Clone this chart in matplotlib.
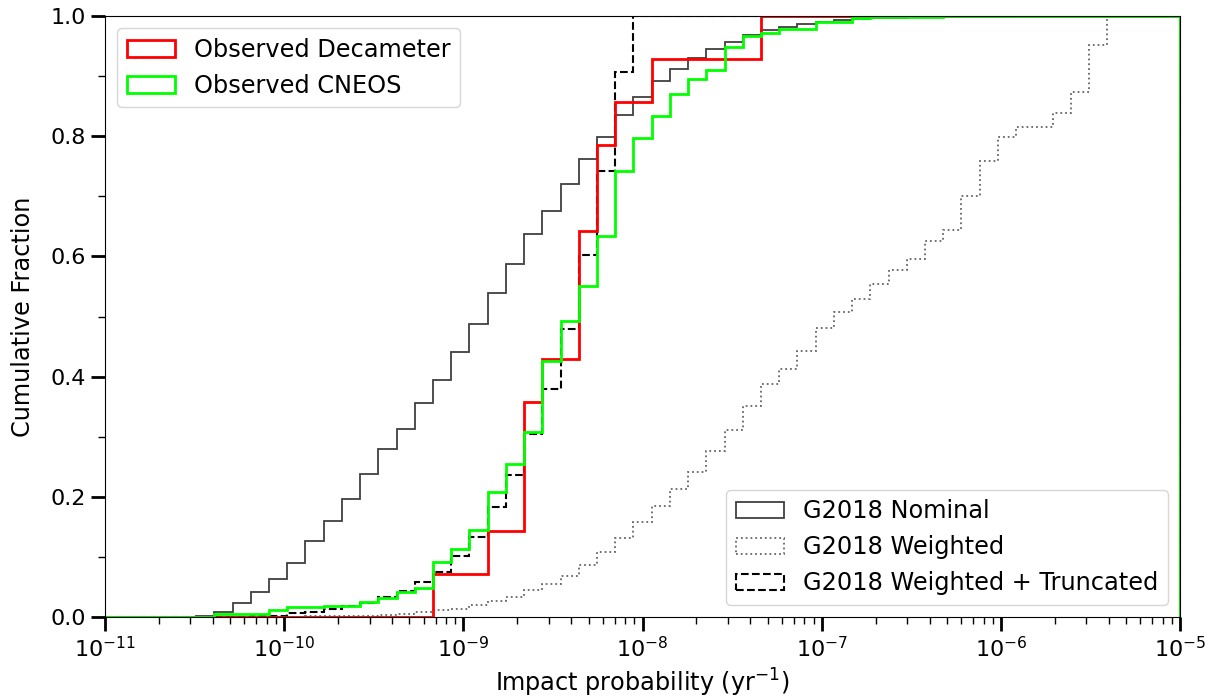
import numpy as np
import matplotlib
matplotlib.use("Agg")
import matplotlib.pyplot as plt
from matplotlib.ticker import MultipleLocator

# log-spaced bins, 1e-11 .. 1e-5
bins = np.logspace(-11, -5, 60)

# cumulative fraction per bin
nominal = ([0.0] * 5 + [0.002, 0.008, 0.023, 0.042, 0.064, 0.090, 0.126, 0.160, 0.197, 0.238,
           0.280, 0.313, 0.356, 0.395, 0.441, 0.488, 0.540, 0.588, 0.637, 0.676,
           0.720, 0.762, 0.799, 0.835, 0.865, 0.892, 0.912, 0.930, 0.945, 0.957,
           0.968, 0.977, 0.981, 0.986, 0.990, 0.993, 0.995, 0.996, 0.997, 0.998,
           0.998, 0.998, 0.999, 0.999, 0.999, 0.9995] + [1.0] * 8)

weighted = ([0.0] * 11 + [0.001, 0.001, 0.002, 0.002, 0.003, 0.005, 0.009, 0.012, 0.014,
            0.020, 0.026, 0.034, 0.045, 0.055, 0.069, 0.087, 0.109, 0.131, 0.158,
            0.185, 0.213, 0.242, 0.277, 0.311, 0.351, 0.387, 0.413, 0.443, 0.481,
            0.507, 0.529, 0.554, 0.577, 0.596, 0.626, 0.644, 0.701, 0.759, 0.799,
            0.815, 0.815, 0.839, 0.873, 0.952] + [1.0] * 4)

truncated = ([0.0] * 8 + [0.002, 0.002, 0.006, 0.008, 0.013, 0.018, 0.024, 0.033, 0.044,
             0.058, 0.075, 0.102, 0.134, 0.183, 0.237, 0.305, 0.380, 0.480, 0.602,
             0.742, 0.907] + [1.0] * 30)

decameter = ([0.0] * 18 + [0.071, 0.071, 0.071, 0.143, 0.143, 0.357, 0.429, 0.429,
             0.643, 0.786, 0.857, 0.857] + [0.929] * 6 + [1.0] * 23)

cneos = ([0.0] * 6 + [0.005, 0.005, 0.005, 0.012, 0.016, 0.016, 0.019, 0.019, 0.025,
         0.032, 0.042, 0.049, 0.092, 0.114, 0.145, 0.208, 0.255, 0.308, 0.426,
         0.493, 0.551, 0.634, 0.743, 0.797, 0.834, 0.870, 0.896, 0.911, 0.949,
         0.966, 0.972, 0.979, 0.979, 0.990, 0.990, 0.996, 0.998, 0.998, 0.998,
         0.998] + [1.0] * 13)

plt.rcParams['font.size'] = 16

fig = plt.figure(figsize=(12.16, 6.98), dpi=100)
ax = fig.add_axes([0.0863, 0.116, 0.8842, 0.861])

# bin centres (geometric) carry the per-bin increments
centres = np.sqrt(bins[:-1] * bins[1:])


def cumstep(cum, **kw):
    w = np.diff(np.asarray(cum), prepend=0.0)
    return ax.hist(centres, bins=bins, weights=w, cumulative=True,
                   histtype='step', **kw)[2][0]


h1 = cumstep(nominal, color='k', alpha=0.75, lw=1.3, label='G2018 Nominal')
h2 = cumstep(weighted, color='k', alpha=0.6, lw=1.3, ls=':', label='G2018 Weighted')
h3 = cumstep(truncated, color='k', lw=1.5, ls='--', label='G2018 Weighted + Truncated')
h4 = cumstep(decameter, color='red', lw=2, label='Observed Decameter')
h5 = cumstep(cneos, color='lime', lw=2, label='Observed CNEOS')

ax.set_xscale('log')
ax.set_xlim(1e-11, 1e-5)
ax.set_ylim(0, 1)
ax.yaxis.set_minor_locator(MultipleLocator(0.1))
ax.tick_params(which='major', length=10, width=2)
ax.tick_params(which='minor', length=5, width=1)

ax.set_xlabel('Impact probability (yr$^{-1}$)', fontsize=17.3)
ax.set_ylabel('Cumulative Fraction', fontsize=17.3, labelpad=11)

leg1 = ax.legend(handles=[h4, h5], loc='upper left', fontsize=17.3)
ax.add_artist(leg1)
ax.legend(handles=[h1, h2, h3], loc='lower right', fontsize=17.3)

plt.savefig("out.png")
